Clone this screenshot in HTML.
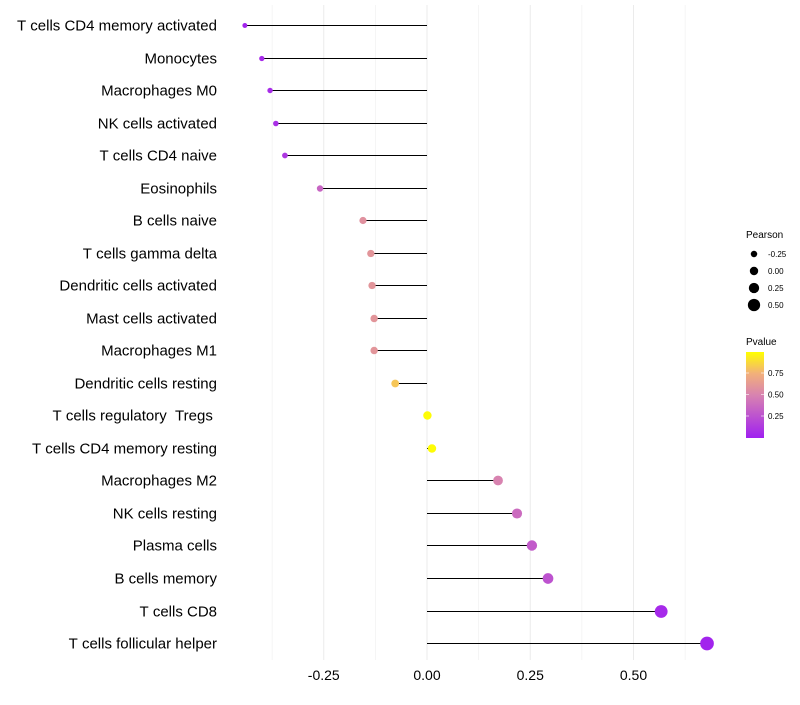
<!DOCTYPE html>
<html><head><meta charset="utf-8"><style>
body{margin:0;background:#fff;font-family:"Liberation Sans",sans-serif}
svg text{font-family:"Liberation Sans",sans-serif}
</style></head><body>
<svg id="chart" width="800" height="700" xmlns="http://www.w3.org/2000/svg">
<defs><linearGradient id="pg" x1="0" y1="1" x2="0" y2="0">
<stop offset="0" stop-color="#A020F0"/><stop offset="0.5" stop-color="#D883B0"/><stop offset="0.75" stop-color="#F2B07A"/><stop offset="1" stop-color="#FFFF00"/></linearGradient></defs>
<g id="grid"></g><g id="marks"></g><g id="labels"></g><g id="legend"></g>
</svg>
<script>
const categories=["T cells CD4 memory activated","Monocytes","Macrophages M0","NK cells activated","T cells CD4 naive","Eosinophils","B cells naive","T cells gamma delta","Dendritic cells activated","Mast cells activated","Macrophages M1","Dendritic cells resting","T cells regulatory  Tregs ","T cells CD4 memory resting","Macrophages M2","NK cells resting","Plasma cells","B cells memory","T cells CD8","T cells follicular helper"];
const pearson=[-0.441,-0.400,-0.380,-0.366,-0.344,-0.259,-0.155,-0.136,-0.133,-0.128,-0.128,-0.077,0.001,0.012,0.172,0.218,0.254,0.293,0.567,0.678];
const pvalues=[0.02,0.05,0.06,0.08,0.12,0.35,0.58,0.6,0.6,0.6,0.6,0.82,0.99,0.99,0.5,0.38,0.3,0.26,0.05,0.02];
const xTicks=[-0.25,0,0.25,0.5];
const NS="http://www.w3.org/2000/svg";
const x=v=>427+v*413;
const y=i=>Math.round(25+i*32.53)+0.5;
const r=v=>4.2+3.9*v;
function lerp(a,b,t){return a.map((c,i)=>Math.round(c+(b[i]-c)*t));}
function col(p){const st=[[0,[160,32,240]],[0.5,[216,131,176]],[0.75,[242,176,122]],[1,[255,255,0]]];
for(let k=1;k<st.length;k++){if(p<=st[k][0]){const t=(p-st[k-1][0])/(st[k][0]-st[k-1][0]);return 'rgb('+lerp(st[k-1][1],st[k][1],t).join(',')+')';}}return 'rgb(255,255,0)';}
function mk(tag,attrs,parent){const e=document.createElementNS(NS,tag);for(const k in attrs)e.setAttribute(k,attrs[k]);parent.appendChild(e);return e;}
const G=document.getElementById('grid'),M=document.getElementById('marks'),L=document.getElementById('labels'),LG=document.getElementById('legend');
for(let v=-0.375;v<=0.63;v+=0.125){const g=mk('line',{x1:x(v),x2:x(v),y1:5,y2:660,stroke:'#ebebeb','stroke-width':Math.abs((v*4)%1)<1e-6?1:0.5},G);

}
xTicks.forEach(t=>{const e=mk('text',{x:x(t),y:680,'text-anchor':'middle','font-size':14,fill:'#000'},L);e.textContent=t.toFixed(2);

});
categories.forEach((c,i)=>{
const t=mk('text',{x:217,y:y(i)+5,'text-anchor':'end','font-size':15,fill:'#000'},L);t.textContent=c.replace(/ /g,'\u00a0');


const ln=mk('line',{x1:x(0),x2:x(pearson[i]),y1:y(i),y2:y(i),stroke:'#000','stroke-width':1},M);


const d=mk('circle',{cx:x(pearson[i]),cy:y(i),r:r(pearson[i]),fill:col(pvalues[i])},M);

});
let t=mk('text',{x:746,y:238,'font-size':10},LG);t.textContent='Pearson';


[-0.25,0,0.25,0.5].forEach((v,k)=>{const cy=254+k*17;
const c=mk('circle',{cx:754,cy:cy,r:r(v),fill:'#000'},LG);


const tt=mk('text',{x:768,y:cy+3,'font-size':8},LG);tt.textContent=v.toFixed(2);

});
t=mk('text',{x:746,y:345,'font-size':10},LG);t.textContent='Pvalue';


const bar=mk('rect',{x:746,y:352,width:18,height:86,fill:'url(#pg)'},LG);


[0.25,0.5,0.75].forEach(v=>{const yy=437.5-v*86;
mk('line',{x1:746,x2:749,y1:yy,y2:yy,stroke:'#fff','stroke-width':0.6},LG);mk('line',{x1:761,x2:764,y1:yy,y2:yy,stroke:'#fff','stroke-width':0.6},LG);
const tt=mk('text',{x:768,y:yy+3,'font-size':8},LG);tt.textContent=v.toFixed(2);

});
</script>
</body></html>
